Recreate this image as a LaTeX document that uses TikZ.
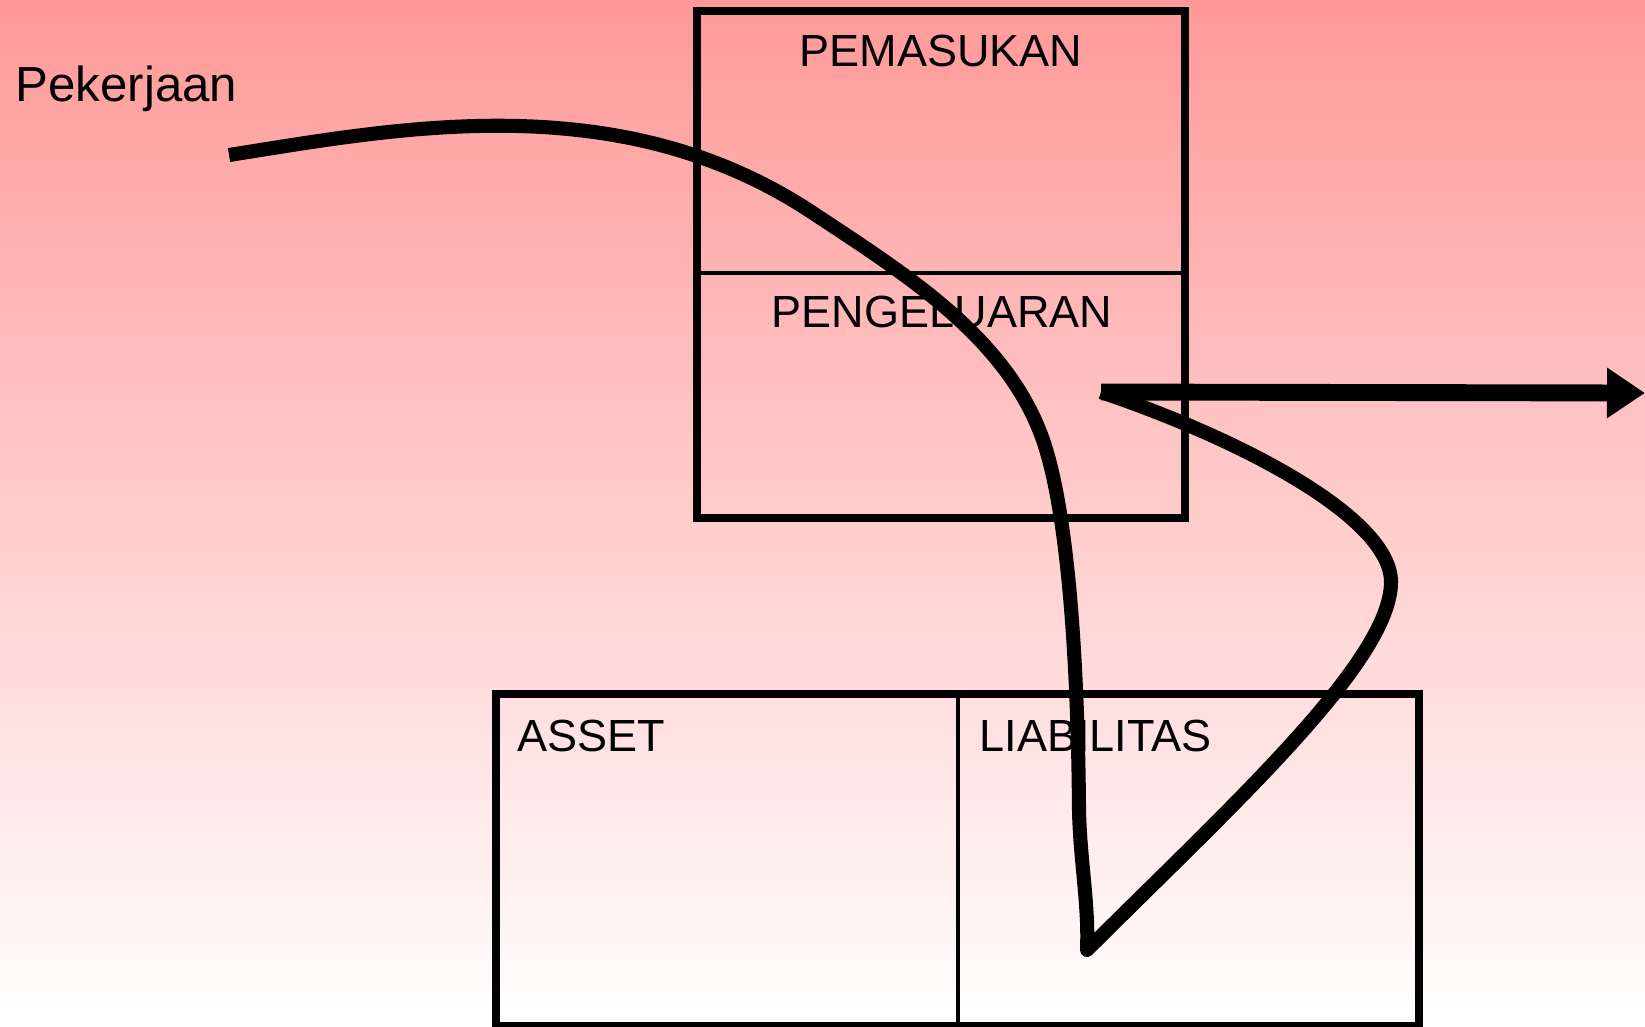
\documentclass[tikz,border=0pt]{standalone}
\usepackage{fontspec}
\setmainfont{Liberation Sans}
\usetikzlibrary{arrows.meta}
\definecolor{bgtop}{HTML}{FF9999}
\definecolor{bgmid}{HTML}{FFD0D0}
\tikzset{
  frame/.style={draw=black, line width=2.2pt},
  divider/.style={draw=black, line width=1pt},
  route/.style={draw=black, line width=4pt, line join=round},
  exitline/.style={draw=black, line width=4.8pt, -{Triangle[length=0.38cm,width=0.48cm]}},
  lab/.style={text=black, inner sep=0pt, font=\fontsize{12.8}{15}\selectfont},
  biglab/.style={text=black, inner sep=0pt, font=\fontsize{14}{17}\selectfont},
}
\begin{document}
\begin{tikzpicture}[x=0.01cm, y=-0.01cm]
  \shade[top color=bgtop, middle color=bgmid, bottom color=white] (0,0) rectangle (1645,1026);
  \useasboundingbox (0,0) rectangle (1645,1026);
  % upper box
  \coordinate (kasNW) at (697,11);
  \coordinate (kasSE) at (1185,518);
  \draw[frame] (kasNW) rectangle (kasSE);
  \draw[divider] (kasNW |- 0,273) -- (kasSE |- 0,273);
  \node[lab, anchor=base] (masuk) at (941,66) {PEMASUKAN};
  \node[lab, anchor=base] (keluar) at (942,327) {PENGELUARAN};
  % lower box
  \coordinate (neracaNW) at (496,694);
  \coordinate (neracaSE) at (1419,1026);
  \draw[frame] (neracaNW) rectangle (neracaSE);
  \draw[divider] (958,694) -- (958,1026);
  \node[lab, anchor=base west] (asset) at (517,751) {ASSET};
  \node[lab, anchor=base west] (liab) at (979,751) {LIABILITAS};
  \node[biglab, anchor=base west] (kerja) at (15,101) {Pekerjaan};
  % route
  \coordinate (mulai) at (229,155);
  \coordinate (dasar) at (1087,950);
  \coordinate (balik) at (1101,392);
  \coordinate (keluarEnd) at (1645,393);
  \draw[route] (mulai) .. controls (400,128) and (620,85) .. (813,213)
    .. controls (905,274) and (1007,337) .. (1043,440)
    .. controls (1069,515) and (1078,670) .. (1079,810)
    .. controls (1080,860) and (1089,905) .. (dasar)
    .. controls (1228,809) and (1391,662) .. (1391,582)
    .. controls (1391,518) and (1243,440) .. (balik);
  \draw[exitline] (balik) -- (keluarEnd);
\end{tikzpicture}
\end{document}
